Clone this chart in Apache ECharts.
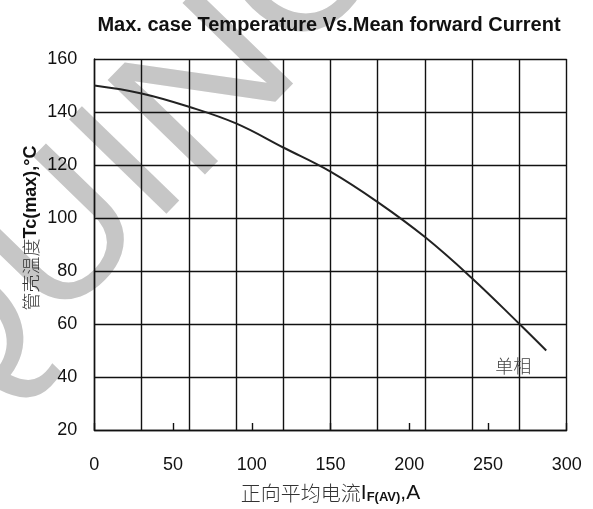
<!DOCTYPE html>
<html>
<head>
<meta charset="utf-8">
<script src="https://cdn.jsdelivr.net/npm/echarts@6/dist/echarts.min.js"></script>
<style>html,body{margin:0;padding:0;background:#fff;}#c{width:593px;height:509px;}</style>
</head>
<body>
<div id="c"></div>
<script>
var titleText = 'Max. case Temperature Vs.Mean forward Current';
var currentA = [0, 30, 60, 90, 120, 150, 180, 210, 240, 270, 287];
var caseTempC = [150, 147, 142, 135.7, 126.6, 117.5, 106, 92.8, 77.2, 60, 50];
var seriesLabel = '单相';
var labelPos = [266, 44];
var xTickLabels = [0, 50, 100, 150, 200, 250, 300];
var yTickLabels = [20, 40, 60, 80, 100, 120, 140, 160];

var chart = echarts.init(document.getElementById('c'));
var lineData = currentA.map(function (x, i) { return [x, caseTempC[i]]; });
var F = 'Liberation Sans, Arial, sans-serif';
var CJK = 'Noto Sans CJK SC, sans-serif';
var wm = { fontSize: 197, fontFamily: F, fill: '#c6c6c6' };

chart.setOption({
  animation: false,
  backgroundColor: '#fff',
  title: {
    text: titleText, left: 324, top: 10, textAlign: 'center',
    textStyle: { fontFamily: F, fontSize: 20, fontWeight: 'bold', color: '#111' }
  },
  graphic: [{
    type: 'text', z: -10, x: -91, y: 401, rotation: 0.80,
    style: Object.assign({ text: 'QUI', textAlign: 'left', textVerticalAlign: 'middle' }, wm)
  }, {
    type: 'text', z: -10, x: 153, y: 150, rotation: 0.80, scaleX: 1.15,
    style: Object.assign({ text: 'N', textAlign: 'left', textVerticalAlign: 'middle' }, wm)
  }, {
    type: 'text', z: -10, x: 305, y: -26, rotation: 0.80,
    style: Object.assign({ text: 'C', textAlign: 'center', textVerticalAlign: 'middle' }, wm)
  }, {
    type: 'text', z: 10, x: 31, y: 228, rotation: Math.PI / 2,
    style: {
      text: '{c|管壳温度}{t|Tc(max),°C}', align: 'center', verticalAlign: 'middle',
      rich: {
        c: { fontFamily: CJK, fontSize: 18, fill: '#333', fontWeight: 300 },
        t: { fontFamily: F, fontSize: 18, fontWeight: 'bold', fill: '#111' }
      }
    }
  }],
  grid: { left: 94.3, right: 26.3, top: 59, bottom: 76.3 },
  xAxis: [{
    type: 'value', min: 0, max: 300, interval: 30,
    axisLine: { show: true, lineStyle: { color: '#111', width: 1.4 } },
    axisTick: { show: false }, axisLabel: { show: false },
    splitLine: { show: true, lineStyle: { color: '#111', width: 1.4 } }
  }, {
    type: 'value', min: 0, max: 300, interval: 50, position: 'bottom',
    axisLine: { show: false },
    axisTick: { show: true, inside: true, length: 7, lineStyle: { color: '#111', width: 1.4 } },
    axisLabel: { margin: 26, fontFamily: F, fontSize: 18, color: '#111',
      formatter: function (v) { return xTickLabels.indexOf(v) >= 0 ? String(v) : ''; } },
    splitLine: { show: false },
    name: '{c|正向平均电流}{i|I}{s|F(AV)}{a|,A}', nameLocation: 'middle', nameGap: 52,
    nameTextStyle: { rich: {
      c: { fontFamily: CJK, fontSize: 20, color: '#333', fontWeight: 300 },
      i: { fontFamily: F, fontSize: 21, color: '#111' },
      s: { fontFamily: F, fontSize: 13, fontWeight: 'bold', color: '#111', padding: [9, 0, 0, 0] },
      a: { fontFamily: F, fontSize: 21, color: '#111' }
    } }
  }],
  yAxis: {
    type: 'value', min: 20, max: 160, interval: 20,
    axisLine: { show: true, lineStyle: { color: '#111', width: 1.4 } },
    axisTick: { show: false },
    axisLabel: { margin: 17, fontFamily: F, fontSize: 18, color: '#111',
      formatter: function (v) { return yTickLabels.indexOf(v) >= 0 ? String(v) : ''; } },
    splitLine: { show: true, lineStyle: { color: '#111', width: 1.4 } }
  },
  series: [{
    type: 'line', data: lineData, smooth: 0.4, showSymbol: false, xAxisIndex: 0,
    lineStyle: { color: '#222', width: 2 },
    markPoint: {
      symbol: 'circle', symbolSize: 0,
      data: [{ coord: labelPos }],
      label: { show: true, position: 'inside', formatter: seriesLabel,
        fontFamily: CJK, fontSize: 18, color: '#444', fontWeight: 300 }
    }
  }]
});
</script>
</body>
</html>
